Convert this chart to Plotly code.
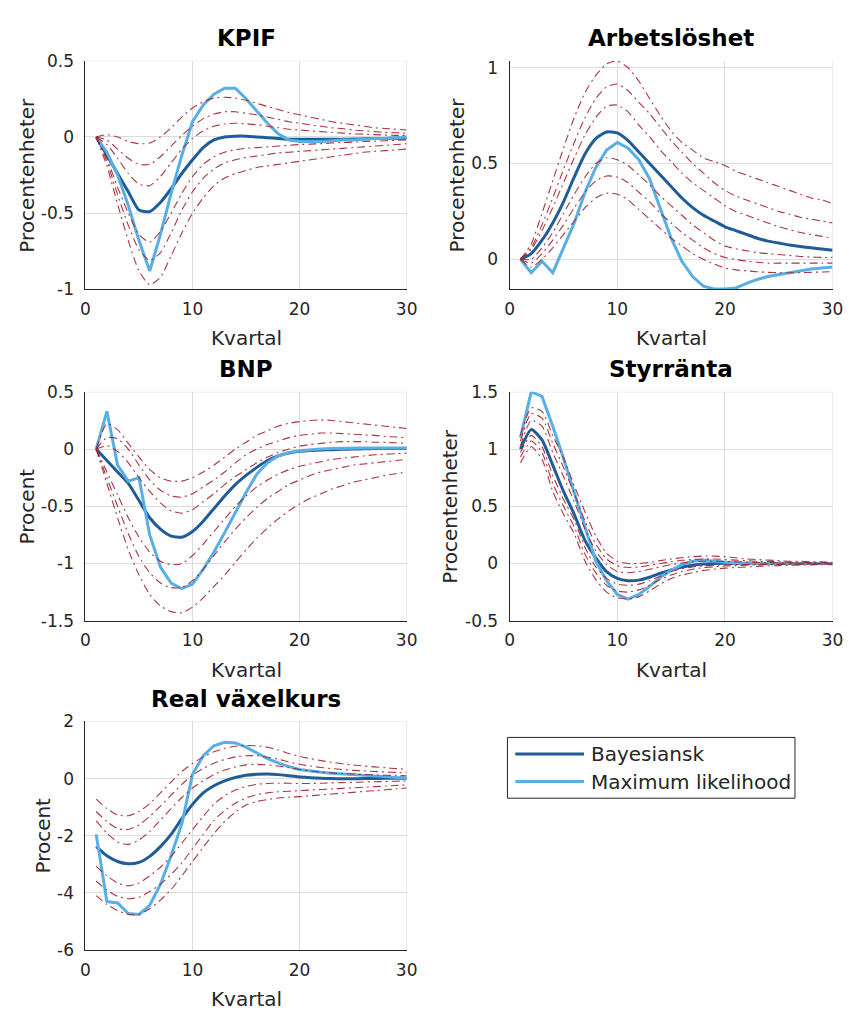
import plotly.graph_objects as go

W, H = 857, 1018

quarters = list(range(1, 31))

# ---------------- KPIF ----------------
kpif_bayes = [0, -0.12, -0.24, -0.36, -0.48, -0.49, -0.43, -0.34, -0.24, -0.15,
              -0.07, -0.02, 0.0, 0.005, 0.005, 0.0, -0.005, -0.01, -0.015, -0.015,
              -0.015, -0.015, -0.015, -0.015, -0.014, -0.012, -0.01, -0.01, -0.008, -0.008]
kpif_ml = [0, -0.1, -0.25, -0.45, -0.68, -0.88, -0.64, -0.37, -0.12, 0.1,
           0.21, 0.28, 0.32, 0.32, 0.25, 0.17, 0.09, 0.02, -0.02, -0.03,
           -0.03, -0.03, -0.025, -0.02, -0.02, -0.015, -0.01, -0.01, -0.005, 0.0]
kpif_hi3 = [0, 0.015, 0.0, -0.03, -0.045, -0.04, 0.0, 0.06, 0.13, 0.19,
            0.23, 0.255, 0.26, 0.255, 0.24, 0.22, 0.2, 0.18, 0.16, 0.145,
            0.13, 0.115, 0.1, 0.09, 0.08, 0.07, 0.06, 0.055, 0.05, 0.045]
kpif_hi2 = [0, -0.02, -0.08, -0.14, -0.18, -0.18, -0.13, -0.06, 0.01, 0.07,
            0.12, 0.15, 0.165, 0.165, 0.155, 0.145, 0.13, 0.115, 0.1, 0.09,
            0.08, 0.07, 0.06, 0.055, 0.045, 0.04, 0.035, 0.03, 0.027, 0.025]
kpif_hi1 = [0, -0.05, -0.14, -0.24, -0.31, -0.32, -0.26, -0.17, -0.08, -0.01,
            0.04, 0.07, 0.085, 0.09, 0.085, 0.08, 0.07, 0.06, 0.05, 0.045,
            0.04, 0.035, 0.03, 0.025, 0.02, 0.018, 0.015, 0.012, 0.01, 0.01]
kpif_lo1 = [0, -0.14, -0.33, -0.5, -0.64, -0.69, -0.62, -0.5, -0.37, -0.26,
            -0.18, -0.13, -0.1, -0.085, -0.075, -0.07, -0.065, -0.06, -0.055, -0.05,
            -0.047, -0.044, -0.04, -0.037, -0.034, -0.03, -0.028, -0.025, -0.022, -0.02]
kpif_lo2 = [0, -0.16, -0.38, -0.58, -0.74, -0.81, -0.76, -0.63, -0.48, -0.36,
            -0.27, -0.21, -0.17, -0.15, -0.135, -0.125, -0.115, -0.105, -0.1, -0.095,
            -0.09, -0.085, -0.08, -0.075, -0.07, -0.065, -0.06, -0.055, -0.05, -0.045]
kpif_lo3 = [0, -0.19, -0.44, -0.68, -0.88, -0.97, -0.92, -0.78, -0.63, -0.5,
            -0.4, -0.32, -0.27, -0.24, -0.22, -0.2, -0.19, -0.18, -0.17, -0.16,
            -0.15, -0.14, -0.13, -0.12, -0.11, -0.1, -0.095, -0.09, -0.085, -0.08]

# ---------------- Arbetslöshet ----------------
arb_bayes = [0, 0.03, 0.1, 0.19, 0.3, 0.43, 0.55, 0.63, 0.665, 0.66,
             0.62, 0.56, 0.5, 0.44, 0.38, 0.32, 0.27, 0.23, 0.2, 0.17,
             0.15, 0.13, 0.11, 0.095, 0.085, 0.075, 0.067, 0.06, 0.054, 0.048]
arb_ml = [0, -0.07, -0.01, -0.07, 0.06, 0.19, 0.35, 0.48, 0.57, 0.61,
          0.58, 0.52, 0.42, 0.26, 0.11, -0.01, -0.09, -0.14, -0.155, -0.155,
          -0.15, -0.125, -0.105, -0.09, -0.08, -0.07, -0.06, -0.05, -0.045, -0.04]
arb_hi3 = [0, 0.08, 0.24, 0.41, 0.58, 0.74, 0.87, 0.96, 1.02, 1.035,
           1.0, 0.93, 0.84, 0.75, 0.67, 0.61, 0.57, 0.53, 0.51, 0.49,
           0.46, 0.44, 0.42, 0.4, 0.38, 0.36, 0.34, 0.32, 0.31, 0.29]
arb_hi2 = [0, 0.06, 0.18, 0.32, 0.47, 0.61, 0.74, 0.84, 0.9, 0.915,
           0.88, 0.82, 0.76, 0.69, 0.62, 0.56, 0.5, 0.45, 0.4, 0.36,
           0.33, 0.31, 0.29, 0.27, 0.25, 0.235, 0.22, 0.21, 0.2, 0.19]
arb_hi1 = [0, 0.05, 0.15, 0.27, 0.4, 0.53, 0.65, 0.74, 0.8, 0.805,
           0.77, 0.7, 0.64, 0.57, 0.51, 0.45, 0.4, 0.36, 0.32, 0.28,
           0.25, 0.23, 0.21, 0.19, 0.17, 0.155, 0.14, 0.13, 0.12, 0.11]
arb_lo1 = [0, 0.0, 0.06, 0.14, 0.24, 0.34, 0.43, 0.5, 0.53, 0.52,
           0.49, 0.44, 0.39, 0.33, 0.28, 0.23, 0.18, 0.14, 0.1, 0.07,
           0.055, 0.045, 0.035, 0.03, 0.025, 0.02, 0.015, 0.012, 0.01, 0.01]
arb_lo2 = [0, -0.02, 0.03, 0.1, 0.18, 0.27, 0.35, 0.41, 0.435, 0.43,
           0.4, 0.35, 0.3, 0.24, 0.19, 0.14, 0.1, 0.06, 0.03, 0.01,
           0.0, -0.01, -0.015, -0.02, -0.02, -0.02, -0.02, -0.02, -0.02, -0.02]
arb_lo3 = [0, -0.04, 0.0, 0.06, 0.13, 0.2, 0.27, 0.32, 0.345, 0.34,
           0.31, 0.26, 0.21, 0.16, 0.11, 0.07, 0.03, 0.0, -0.025, -0.045,
           -0.055, -0.06, -0.065, -0.068, -0.07, -0.07, -0.07, -0.068, -0.066, -0.065]

# ---------------- BNP ----------------
bnp_bayes = [0, -0.1, -0.2, -0.3, -0.45, -0.6, -0.7, -0.76, -0.77, -0.72,
             -0.63, -0.52, -0.41, -0.31, -0.23, -0.16, -0.1, -0.06, -0.035, -0.02,
             -0.012, -0.008, -0.005, -0.002, 0.0, 0.002, 0.004, 0.005, 0.006, 0.006]
bnp_ml = [0, 0.33, -0.14, -0.28, -0.25, -0.75, -1.03, -1.17, -1.22, -1.18,
          -1.05, -0.9, -0.73, -0.55, -0.38, -0.22, -0.12, -0.06, -0.03, -0.015,
          -0.005, 0.0, 0.005, 0.008, 0.01, 0.01, 0.01, 0.01, 0.01, 0.01]
bnp_hi3 = [0, 0.22, 0.17, 0.05, -0.07, -0.18, -0.25, -0.28, -0.28, -0.25,
           -0.2, -0.14, -0.07, 0.0, 0.06, 0.12, 0.16, 0.2, 0.225, 0.24,
           0.25, 0.255, 0.25, 0.24, 0.23, 0.22, 0.21, 0.2, 0.19, 0.18]
bnp_hi2 = [0, 0.1, 0.09, 0.0, -0.14, -0.27, -0.36, -0.41, -0.42, -0.39,
           -0.33, -0.27, -0.2, -0.12, -0.05, 0.0, 0.04, 0.07, 0.1, 0.12,
           0.13, 0.14, 0.14, 0.135, 0.13, 0.125, 0.12, 0.11, 0.105, 0.1]
bnp_hi1 = [0, 0.03, -0.02, -0.12, -0.25, -0.37, -0.47, -0.54, -0.56, -0.53,
           -0.46, -0.39, -0.31, -0.24, -0.18, -0.12, -0.07, -0.03, 0.0, 0.025,
           0.04, 0.05, 0.06, 0.065, 0.065, 0.065, 0.06, 0.058, 0.055, 0.05]
bnp_lo1 = [0, -0.2, -0.4, -0.6, -0.77, -0.9, -0.98, -1.01, -1.0, -0.93,
           -0.83, -0.72, -0.61, -0.5, -0.41, -0.33, -0.27, -0.22, -0.18, -0.15,
           -0.13, -0.11, -0.09, -0.08, -0.07, -0.06, -0.05, -0.045, -0.04, -0.035]
bnp_lo2 = [0, -0.25, -0.5, -0.74, -0.94, -1.08, -1.17, -1.21, -1.21, -1.15,
           -1.05, -0.93, -0.81, -0.7, -0.6, -0.51, -0.43, -0.37, -0.31, -0.27,
           -0.23, -0.2, -0.18, -0.16, -0.14, -0.13, -0.12, -0.11, -0.1, -0.09]
bnp_lo3 = [0, -0.3, -0.6, -0.88, -1.1, -1.27, -1.37, -1.42, -1.43, -1.38,
           -1.3, -1.2, -1.1, -0.99, -0.88, -0.78, -0.69, -0.61, -0.54, -0.48,
           -0.43, -0.39, -0.35, -0.32, -0.29, -0.27, -0.25, -0.23, -0.215, -0.2]

# ---------------- Styrränta ----------------
styr_bayes = [1.0, 1.17, 1.08, 0.86, 0.63, 0.43, 0.2, 0.05, -0.07, -0.13,
              -0.15, -0.145, -0.12, -0.085, -0.055, -0.03, -0.015, -0.005, 0.0, 0.003,
              0.003, 0.002, 0.001, 0.0, 0.0, 0.0, 0.0, 0.0, 0.0, 0.0]
styr_ml = [1.1, 1.5, 1.46, 1.2, 0.92, 0.62, 0.31, 0.02, -0.15, -0.27,
           -0.31, -0.27, -0.2, -0.12, -0.06, -0.01, 0.02, 0.03, 0.02, 0.01,
           0.005, 0.0, 0.0, 0.0, 0.0, 0.0, 0.0, 0.0, 0.0, 0.0]
styr_hi3 = [1.12, 1.36, 1.33, 1.12, 0.92, 0.68, 0.45, 0.24, 0.09, 0.02,
            0.0, 0.0, 0.01, 0.025, 0.04, 0.05, 0.06, 0.065, 0.065, 0.06,
            0.05, 0.04, 0.035, 0.03, 0.025, 0.02, 0.02, 0.015, 0.015, 0.01]
styr_hi2 = [1.07, 1.31, 1.27, 1.05, 0.84, 0.61, 0.37, 0.17, 0.04, -0.02,
            -0.035, -0.03, -0.015, 0.0, 0.015, 0.028, 0.035, 0.04, 0.04, 0.035,
            0.03, 0.025, 0.02, 0.018, 0.015, 0.012, 0.01, 0.01, 0.008, 0.006]
styr_hi1 = [1.03, 1.25, 1.2, 0.97, 0.76, 0.54, 0.3, 0.11, -0.01, -0.07,
            -0.08, -0.07, -0.05, -0.03, -0.01, 0.005, 0.015, 0.02, 0.02, 0.018,
            0.015, 0.012, 0.01, 0.008, 0.006, 0.005, 0.004, 0.003, 0.002, 0.002]
styr_lo1 = [0.97, 1.12, 1.02, 0.77, 0.56, 0.38, 0.14, -0.03, -0.13, -0.18,
            -0.19, -0.18, -0.15, -0.11, -0.07, -0.045, -0.03, -0.02, -0.015, -0.012,
            -0.01, -0.008, -0.006, -0.005, -0.004, -0.003, -0.003, -0.002, -0.002, -0.002]
styr_lo2 = [0.93, 1.07, 0.97, 0.7, 0.5, 0.32, 0.08, -0.08, -0.19, -0.24,
            -0.25, -0.23, -0.19, -0.14, -0.1, -0.07, -0.05, -0.035, -0.028, -0.022,
            -0.018, -0.015, -0.012, -0.01, -0.008, -0.007, -0.006, -0.005, -0.004, -0.004]
styr_lo3 = [0.88, 1.02, 0.91, 0.63, 0.43, 0.26, 0.02, -0.14, -0.25, -0.3,
            -0.31, -0.29, -0.24, -0.18, -0.13, -0.1, -0.08, -0.06, -0.05, -0.04,
            -0.035, -0.03, -0.025, -0.02, -0.018, -0.015, -0.013, -0.012, -0.01, -0.01]

# ---------------- Real växelkurs ----------------
rv_bayes = [-2.38, -2.7, -2.9, -2.98, -2.93, -2.72, -2.38, -1.95, -1.4, -0.9,
            -0.5, -0.25, -0.08, 0.04, 0.12, 0.15, 0.16, 0.14, 0.1, 0.06,
            0.03, 0.01, 0.0, -0.005, -0.005, 0.0, 0.005, 0.01, 0.01, 0.01]
rv_ml = [-1.95, -4.3, -4.35, -4.72, -4.75, -4.43, -3.7, -2.7, -1.58, 0.15,
         0.8, 1.15, 1.27, 1.25, 1.1, 0.9, 0.7, 0.55, 0.42, 0.32,
         0.26, 0.22, 0.19, 0.17, 0.15, 0.13, 0.1, 0.07, 0.04, 0.02]
rv_hi3 = [-0.72, -1.05, -1.27, -1.3, -1.15, -0.88, -0.5, -0.12, 0.25, 0.53,
          0.76, 0.94, 1.06, 1.13, 1.16, 1.15, 1.1, 1.0, 0.88, 0.78,
          0.7, 0.63, 0.57, 0.52, 0.48, 0.44, 0.41, 0.38, 0.35, 0.33]
rv_hi2 = [-1.15, -1.5, -1.75, -1.78, -1.62, -1.32, -0.96, -0.58, -0.2, 0.12,
          0.36, 0.54, 0.67, 0.76, 0.8, 0.8, 0.75, 0.68, 0.58, 0.5,
          0.44, 0.39, 0.35, 0.32, 0.29, 0.27, 0.25, 0.23, 0.22, 0.2]
rv_hi1 = [-1.48, -1.9, -2.22, -2.3, -2.15, -1.85, -1.45, -1.05, -0.66, -0.33,
          -0.07, 0.14, 0.3, 0.41, 0.48, 0.5, 0.48, 0.44, 0.38, 0.32,
          0.27, 0.23, 0.2, 0.18, 0.16, 0.14, 0.13, 0.12, 0.11, 0.1]
rv_lo1 = [-3.06, -3.4, -3.65, -3.75, -3.65, -3.4, -3.1, -2.72, -2.26, -1.78,
          -1.32, -0.89, -0.6, -0.4, -0.27, -0.2, -0.17, -0.16, -0.16, -0.17,
          -0.17, -0.16, -0.15, -0.14, -0.13, -0.12, -0.11, -0.1, -0.09, -0.08]
rv_lo2 = [-3.58, -3.9, -4.12, -4.2, -4.15, -3.95, -3.7, -3.35, -2.95, -2.45,
          -1.95, -1.46, -1.12, -0.86, -0.68, -0.56, -0.5, -0.46, -0.44, -0.42,
          -0.4, -0.38, -0.36, -0.34, -0.32, -0.3, -0.28, -0.26, -0.24, -0.22]
rv_lo3 = [-4.09, -4.4, -4.62, -4.75, -4.75, -4.55, -4.25, -3.88, -3.4, -2.9,
          -2.4, -1.92, -1.5, -1.17, -0.92, -0.8, -0.73, -0.68, -0.65, -0.63,
          -0.6, -0.57, -0.54, -0.51, -0.48, -0.45, -0.42, -0.39, -0.36, -0.33]

# ---------------- Labels and ticks ----------------
panel_titles = ["KPIF", "Arbetslöshet", "BNP", "Styrränta", "Real växelkurs"]
y_titles = ["Procentenheter", "Procentenheter", "Procent", "Procentenheter", "Procent"]
x_title = "Kvartal"
x_tickvals = [0, 10, 20, 30]
x_ticktext = ["0", "10", "20", "30"]
kpif_yticks = [-1, -0.5, 0, 0.5]
kpif_yticktext = ["-1", "-0.5", "0", "0.5"]
arb_yticks = [0, 0.5, 1]
arb_yticktext = ["0", "0.5", "1"]
bnp_yticks = [-1.5, -1, -0.5, 0, 0.5]
bnp_yticktext = ["-1.5", "-1", "-0.5", "0", "0.5"]
styr_yticks = [-0.5, 0, 0.5, 1, 1.5]
styr_yticktext = ["-0.5", "0", "0.5", "1", "1.5"]
rv_yticks = [-6, -4, -2, 0, 2]
rv_yticktext = ["-6", "-4", "-2", "0", "2"]
legend_labels = ["Bayesiansk", "Maximum likelihood"]

# ---------------- Styling ----------------
FONT = "DejaVu Sans"
TEXT = "#262626"
GRID = "#dcdcdc"
DARK_BLUE = "#1f5c98"
LIGHT_BLUE = "#58afe6"
BAND_RED = "rgba(163,38,48,0.92)"
BAND_DASH = "8px,4px,2px,4px"


def fx(p):
    return p / W


def fy(p):
    return 1 - p / H


# plot-area pixel boxes: (left, right) and (top, bottom)
COL_L = (82, 409.3)
COL_R = (514.3, 843.3)
ROW_1 = (51.7, 285)
ROW_2 = (389.5, 623)
ROW_3 = (725.7, 959)

panels = [
    dict(title=panel_titles[0], ytitle=y_titles[0], col=COL_L, row=ROW_1, ylab_x=22,
         yrange=[-1, 0.5], yticks=kpif_yticks, yticktext=kpif_yticktext,
         bayes=kpif_bayes, ml=kpif_ml,
         bands=[kpif_hi3, kpif_hi2, kpif_hi1, kpif_lo1, kpif_lo2, kpif_lo3]),
    dict(title=panel_titles[1], ytitle=y_titles[1], col=COL_R, row=ROW_1, ylab_x=461,
         yrange=[-0.157, 1.037], yticks=arb_yticks, yticktext=arb_yticktext,
         bayes=arb_bayes, ml=arb_ml,
         bands=[arb_hi3, arb_hi2, arb_hi1, arb_lo1, arb_lo2, arb_lo3]),
    dict(title=panel_titles[2], ytitle=y_titles[2], col=COL_L, row=ROW_2, ylab_x=22.5,
         yrange=[-1.5, 0.5], yticks=bnp_yticks, yticktext=bnp_yticktext,
         bayes=bnp_bayes, ml=bnp_ml,
         bands=[bnp_hi3, bnp_hi2, bnp_hi1, bnp_lo1, bnp_lo2, bnp_lo3]),
    dict(title=panel_titles[3], ytitle=y_titles[3], col=COL_R, row=ROW_2, ylab_x=454,
         yrange=[-0.5, 1.5], yticks=styr_yticks, yticktext=styr_yticktext,
         bayes=styr_bayes, ml=styr_ml,
         bands=[styr_hi3, styr_hi2, styr_hi1, styr_lo1, styr_lo2, styr_lo3]),
    dict(title=panel_titles[4], ytitle=y_titles[4], col=COL_L, row=ROW_3, ylab_x=38.5,
         yrange=[-6, 2], yticks=rv_yticks, yticktext=rv_yticktext,
         bayes=rv_bayes, ml=rv_ml,
         bands=[rv_hi3, rv_hi2, rv_hi1, rv_lo1, rv_lo2, rv_lo3]),
]

fig = go.Figure()
annotations = []
shapes = []
layout_axes = {}

for i, p in enumerate(panels, start=1):
    sfx = "" if i == 1 else str(i)
    xref, yref = "x" + sfx, "y" + sfx

    fig.add_trace(go.Scatter(x=quarters, y=p["bayes"], mode="lines", xaxis=xref, yaxis=yref,
                             line=dict(color=DARK_BLUE, width=3, shape="spline", smoothing=0.6),
                             name=legend_labels[0], showlegend=False))
    fig.add_trace(go.Scatter(x=quarters, y=p["ml"], mode="lines", xaxis=xref, yaxis=yref,
                             line=dict(color=LIGHT_BLUE, width=3), name=legend_labels[1],
                             showlegend=False))
    for band in p["bands"]:
        fig.add_trace(go.Scatter(x=quarters, y=band, mode="lines", xaxis=xref, yaxis=yref,
                                 line=dict(color=BAND_RED, width=1.1, dash=BAND_DASH,
                                           shape="spline", smoothing=0.6),
                                 showlegend=False, hoverinfo="skip"))

    left, right = p["col"]
    top, bottom = p["row"]
    layout_axes["xaxis" + sfx] = dict(
        domain=[fx(left), fx(right)], anchor=yref, range=[0, 30],
        tickvals=x_tickvals, ticktext=x_ticktext, showgrid=True, gridcolor=GRID,
        gridwidth=1, zeroline=False, showline=True, linecolor=TEXT, linewidth=1.2,
        ticks="", ticklabelstandoff=4, tickfont=dict(family=FONT, size=17, color=TEXT),
    )
    layout_axes["yaxis" + sfx] = dict(
        domain=[fy(bottom), fy(top)], anchor=xref, range=p["yrange"],
        tickvals=p["yticks"], ticktext=p["yticktext"], showgrid=True, gridcolor=GRID,
        gridwidth=1, zeroline=False, showline=True, linecolor=TEXT, linewidth=1.2,
        ticks="", ticklabelstandoff=7, tickfont=dict(family=FONT, size=17, color=TEXT),
    )

    # grid line at the last x tick (right edge of the plot area)
    shapes.append(dict(type="line", xref=xref, yref=yref + " domain",
                       x0=x_tickvals[-1], x1=x_tickvals[-1], y0=0, y1=1,
                       line=dict(color=GRID, width=1), layer="below"))
    # grid line at the top y tick when it sits on the upper edge
    if p["yticks"][-1] >= p["yrange"][1]:
        shapes.append(dict(type="line", xref=xref + " domain", yref=yref,
                           x0=0, x1=1, y0=p["yticks"][-1], y1=p["yticks"][-1],
                           line=dict(color=GRID, width=1), layer="below"))

    cx = (left + right) / 2
    annotations.append(dict(text="<b>%s</b>" % p["title"], x=fx(cx), y=fy(top - 23),
                            xref="paper", yref="paper", showarrow=False,
                            xanchor="center", yanchor="middle",
                            font=dict(family=FONT, size=23, color="#000000")))
    annotations.append(dict(text=x_title, x=fx(cx), y=fy(bottom + 50),
                            xref="paper", yref="paper", showarrow=False,
                            xanchor="center", yanchor="middle",
                            font=dict(family=FONT, size=20, color=TEXT)))
    annotations.append(dict(text=p["ytitle"], x=fx(p["ylab_x"]), y=fy((top + bottom) / 2),
                            xref="paper", yref="paper", showarrow=False, textangle=-90,
                            xanchor="center", yanchor="middle",
                            font=dict(family=FONT, size=20, color=TEXT)))

# legend box drawn in the free lower-right cell
shapes += [
    dict(type="rect", xref="paper", yref="paper", x0=fx(512), x1=fx(805), y0=fy(804), y1=fy(742),
         line=dict(color=TEXT, width=1), fillcolor="white", layer="above"),
    dict(type="line", xref="paper", yref="paper", x0=fx(520), x1=fx(590), y0=fy(759), y1=fy(759),
         line=dict(color=DARK_BLUE, width=3), layer="above"),
    dict(type="line", xref="paper", yref="paper", x0=fx(520), x1=fx(590), y0=fy(787), y1=fy(787),
         line=dict(color=LIGHT_BLUE, width=3), layer="above"),
]
for lbl, ypix in zip(legend_labels, [759, 787]):
    annotations.append(dict(text=lbl, x=fx(595), y=fy(ypix), xref="paper", yref="paper",
                            showarrow=False, xanchor="left", yanchor="middle",
                            font=dict(family=FONT, size=20, color=TEXT)))

fig.update_layout(
    width=W, height=H, margin=dict(l=0, r=0, t=0, b=0),
    paper_bgcolor="white", plot_bgcolor="white",
    showlegend=False, annotations=annotations, shapes=shapes,
    **layout_axes,
)

fig.write_html("out.html")
